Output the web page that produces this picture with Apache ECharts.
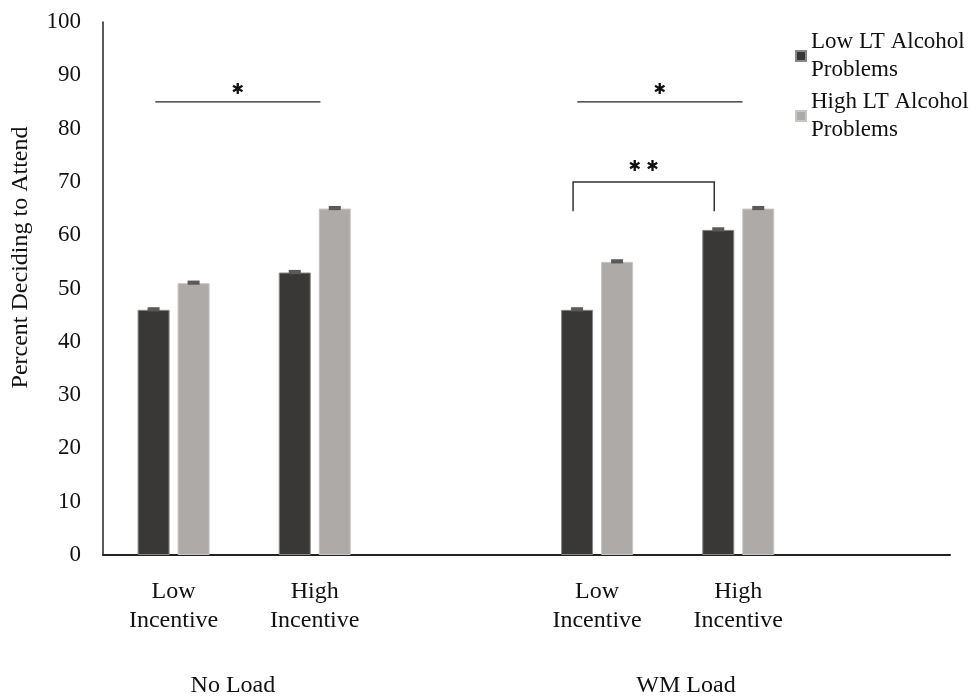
<!DOCTYPE html>
<html><head><meta charset="utf-8">
<script src="https://cdn.jsdelivr.net/npm/echarts@6/dist/echarts.min.js"></script>
<style>html,body{margin:0;padding:0;background:#fff}#c{width:976px;height:699px}</style>
</head><body><div id="c"></div>
<script>
const categories = ['Low\nIncentive','High\nIncentive','','Low\nIncentive','High\nIncentive',''];
const groupNames = ['No Load','WM Load'];
const groupAt = [0.42, 3.63];
const seriesNames = ['Low LT Alcohol\nProblems','High LT Alcohol\nProblems'];
const lowLT = [46, 53, null, 46, 61, null];
const highLT = [51, 65, null, 55, 65, null];
const errLow = [0.3, 0.3, null, 0.3, 0.3, null];
const errHigh = [0.3, 0.3, null, 0.3, 0.3, null];
const yTicks = {min:0, max:100, interval:10};
// significance annotations: [fromCat, fromOffset(band units), toCat, toOffset, yValue, dropValue, label]
const sigLines = [
  [0, -0.13, 1, 0.04, 85, null, '✱'],
  [3, -0.14, 4, 0.03, 85, null, '✱'],
  [3, -0.17, 4, -0.17, 70, 64.5, '✱ ✱']
];
const FONT = 'Liberation Serif';
const BARW = 32, GAP = 8;
const chart = echarts.init(document.getElementById('c'));
function errSeries(vals, errs, sign){
  return {type:'custom', silent:true, z:5,
    data: vals.map((v,i)=> v==null?[i,null,null]:[i,v,errs[i]]),
    renderItem:(params, api)=>{
      const v = api.value(1); if (v==null || isNaN(v)) return null;
      const e = api.value(2);
      const top = api.coord([api.value(0), v+e]);
      const bot = api.coord([api.value(0), v-e]);
      const x = top[0] + sign*(BARW/2 + GAP/2);
      return {type:'rect', shape:{x:x-6, y:top[1]-1, width:12, height:Math.max(3, bot[1]-top[1]+1)}, style:{fill:'#5a5a5a'}};
    }};
}
chart.setOption({
  animation:false,
  textStyle:{fontFamily:FONT},
  grid:{left:103, right:26, top:22, bottom:144, containLabel:false},
  legend:{orient:'vertical', left:790, top:23, itemWidth:10, itemHeight:10, itemGap:4,
    icon:'rect', data:seriesNames,
    textStyle:{fontFamily:FONT, fontSize:23, color:'#111', lineHeight:28}},
  xAxis:{type:'category', data:categories, boundaryGap:true,
     axisLine:{lineStyle:{color:'#222', width:2}}, axisTick:{show:false},
     axisLabel:{fontFamily:FONT, fontSize:24, color:'#111', lineHeight:29, margin:22, interval:0}},
  yAxis:{type:'value', min:yTicks.min, max:yTicks.max, interval:yTicks.interval,
    name:'Percent Deciding to Attend', nameLocation:'middle', nameGap:70, nameRotate:90,
    nameTextStyle:{fontFamily:FONT, fontSize:24, color:'#111', padding:[0,0,0,62]},
    axisLine:{show:true, lineStyle:{color:'#222', width:1.5}}, axisTick:{show:false}, splitLine:{show:false},
    axisLabel:{fontFamily:FONT, fontSize:23, color:'#111', margin:22}},
  series:[
    {name:seriesNames[0], type:'bar', data:lowLT, barWidth:BARW, barGap:(GAP/BARW*100)+'%',
     itemStyle:{color:'#3a3836', borderColor:'#8a8886', borderWidth:1}},
    {name:seriesNames[1], type:'bar', data:highLT, barWidth:BARW,
     itemStyle:{color:'#aeaaa8', borderColor:'#c8c6c4', borderWidth:1}},
    errSeries(lowLT, errLow, -1),
    errSeries(highLT, errHigh, 1),
    {type:'custom', silent:true, z:6, clip:false,
     data: sigLines.map(s=>[s[0], s[4]]),
     renderItem:(params, api)=>{
       const s = sigLines[params.dataIndex];
       const bw = api.size([1,0])[0];
       const p1 = api.coord([s[0], s[4]]), p2 = api.coord([s[2], s[4]]);
       const x1 = p1[0] + s[1]*bw, x2 = p2[0] + s[3]*bw, y = p1[1];
       const children = [];
       if (s[5]!=null){
         const yd = api.coord([s[0], s[5]])[1];
         children.push({type:'polyline', shape:{points:[[x1,yd],[x1,y],[x2,y],[x2,yd]]}, style:{stroke:'#333', lineWidth:1.5, fill:null}});
       } else {
         children.push({type:'line', shape:{x1:x1,y1:y,x2:x2,y2:y}, style:{stroke:'#222', lineWidth:1.3}});
       }
       children.push({type:'text', style:{text:s[6], x:(x1+x2)/2, y:y-(s[5]!=null?15:12), align:'center', verticalAlign:'middle', fontSize:15, fontWeight:'bold', fill:'#111', fontFamily:'DejaVu Sans'}});
       return {type:'group', children};
     }},
    {type:'custom', silent:true, z:6, clip:false,
     data: groupAt.map(a=>[0, 0]),
     renderItem:(params, api)=>{
       const a = groupAt[params.dataIndex];
       const bw = api.size([1,0])[0];
       const p = api.coord([0, 0]);
       const x = p[0] + a*bw;
       return {type:'text', style:{text:groupNames[params.dataIndex], x:x, y:p[1]+131, align:'center', verticalAlign:'middle', fontSize:24, fill:'#111', fontFamily:FONT}};
     }}
  ]
});
</script></body></html>
